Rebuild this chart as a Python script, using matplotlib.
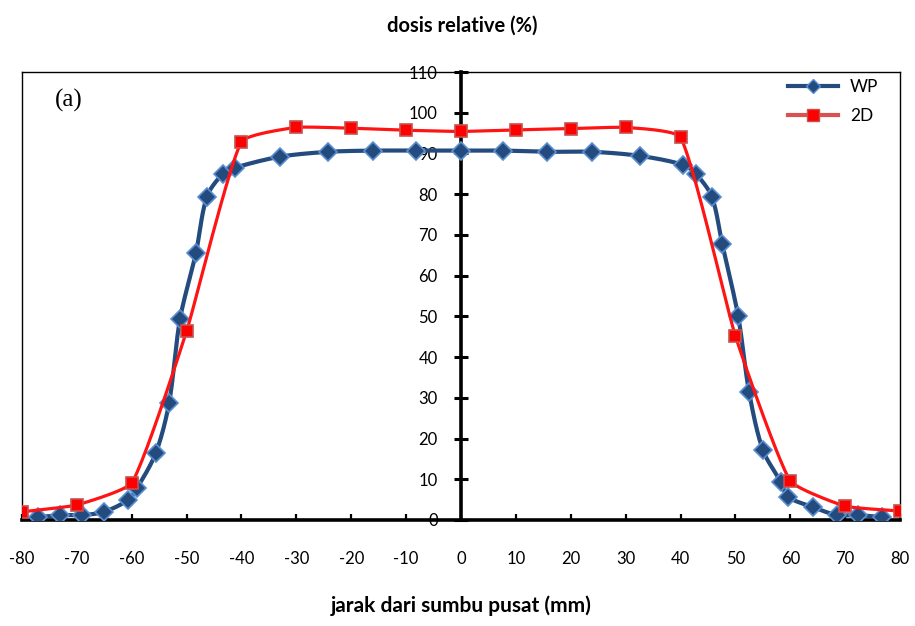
import numpy as np
import matplotlib
matplotlib.use("Agg")
import matplotlib.pyplot as plt
from matplotlib.lines import Line2D

# ---------------- data ----------------
wp_x = [-77.1, -73.1, -69.1, -65.1, -60.7, -59.0, -55.6, -53.2, -51.2, -48.3,
        -46.3, -43.4, -41.2, -33.0, -24.2, -16.0, -8.2, 0.0, 7.7, 15.7,
        23.9, 32.6, 40.5, 42.8, 45.7, 47.6, 50.5, 52.5, 55.0, 58.3,
        59.6, 64.1, 68.5, 72.3, 76.7]
wp_y = [0.7, 1.2, 1.2, 2.0, 4.9, 7.9, 16.5, 28.7, 49.4, 65.6,
        79.4, 85.0, 86.5, 89.2, 90.4, 90.7, 90.7, 90.7, 90.7, 90.4,
        90.4, 89.4, 87.2, 85.0, 79.4, 67.8, 50.1, 31.4, 17.2, 9.3,
        5.7, 3.2, 1.2, 1.2, 0.7]

d2_x = [-80, -70, -60, -50, -40, -30, -20, -10, 0, 10, 20, 30, 40, 50, 60, 70, 80]
d2_y = [2.0, 3.7, 9.1, 46.4, 92.9, 96.4, 96.2, 95.7, 95.4, 95.8, 96.1, 96.4,
        94.0, 45.2, 9.6, 3.4, 2.2]

x_ticks = list(range(-80, 90, 10))
y_ticks = list(range(0, 120, 10))
series_labels = ["WP", "2D"]

title = "dosis relative (%)"
xlabel = "jarak dari sumbu pusat (mm)"
panel = "(a)"


def smooth(x, y, k=0.3, n=24):
    """Smoothed line through the points (Bezier with length-scaled tangents)."""
    sx, sy = 5.49, 4.07  # approximate pixel scale so the smoothing is isotropic
    P = np.column_stack([np.asarray(x, float) * sx, np.asarray(y, float) * sy])
    P = np.vstack([P[0], P, P[-1]])
    t = np.linspace(0, 1, n, endpoint=False)[:, None]
    segs = []
    for i in range(1, len(P) - 2):
        p0, p1, p2, p3 = P[i - 1], P[i], P[i + 1], P[i + 2]
        L = np.linalg.norm(p2 - p1)
        d1 = p2 - p0
        d1 = d1 / (np.linalg.norm(d1) or 1.0)
        d2 = p3 - p1
        d2 = d2 / (np.linalg.norm(d2) or 1.0)
        c1 = p1 + d1 * L * k
        c2 = p2 - d2 * L * k
        seg = ((1 - t) ** 3) * p1 + 3 * ((1 - t) ** 2) * t * c1 \
            + 3 * (1 - t) * t ** 2 * c2 + t ** 3 * p2
        segs.append(seg)
    segs.append(P[-2][None, :])
    out = np.vstack(segs)
    return out[:, 0] / sx, out[:, 1] / sy


plt.rcParams["font.family"] = ["Lato", "DejaVu Sans"]

fig = plt.figure(figsize=(9.15, 6.26), dpi=100)
ax = fig.add_axes([22 / 915, 1 - 520 / 626, 878 / 915, 448 / 626])
ax.set_xlim(-80, 80)
ax.set_ylim(0, 110)

blue = "#234B7E"
blue_edge = "#5A8ED0"
red = "#FF1414"
red_edge = "#C8504D"

# WP series
sx_, sy_ = smooth(wp_x, wp_y, k=0.3)
ax.plot(sx_, sy_, color=blue, lw=3.0, zorder=3, solid_capstyle="round")
ax.plot(wp_x, wp_y, ls="none", marker="D", ms=9.5, mfc=blue, mec=blue_edge,
        mew=1.2, zorder=4)

# 2D series
sx2, sy2 = smooth(d2_x, d2_y, k=0.14)
ax.plot(sx2, sy2, color=red, lw=2.3, zorder=5, solid_capstyle="round")
ax.plot(d2_x, d2_y, ls="none", marker="s", ms=9, mfc="#FF0000", mec=red_edge,
        mew=1.2, zorder=6)

# axes styling
ax.spines["left"].set_position(("data", 0))
ax.spines["left"].set_linewidth(2.6)
ax.spines["bottom"].set_linewidth(2.6)
ax.spines["top"].set_linewidth(1.0)
ax.spines["right"].set_linewidth(1.0)
ax.plot([0, 0], [0, 1], transform=ax.transAxes, color="black", lw=1.0,
        clip_on=False, zorder=1)

ax.set_xticks(x_ticks)
ax.set_yticks(y_ticks)
ax.set_xticklabels([str(v) for v in x_ticks])
ax.set_yticklabels([str(v) for v in y_ticks])
ax.tick_params(axis="y", direction="inout", length=9.5, width=2.2, pad=12,
               labelsize=12)
ax.tick_params(axis="x", direction="in", length=4, width=1.6, pad=22,
               labelsize=12)

# legend
handles = [
    Line2D([], [], color=blue, lw=3.0, marker="D", ms=7, mfc=blue,
           mec=blue_edge, mew=1.0),
    Line2D([], [], color="#D9524F", lw=3.0, marker="s", ms=8, mfc="#FF0000",
           mec=red_edge, mew=1.0),
]
leg = ax.legend(handles, series_labels, loc="upper left",
                bbox_to_anchor=(0.872, 0.985), frameon=False, fontsize=12.5,
                handlelength=2.9, handletextpad=0.7, labelspacing=0.75,
                borderpad=0, borderaxespad=0)

# texts
fig.text(462 / 915, 1 - 26 / 626, title, ha="center", va="center",
         fontsize=14.5, fontweight="bold")
fig.text(461 / 915, 1 - 606 / 626, xlabel, ha="center", va="center",
         fontsize=15, fontweight="bold")
fig.text(55 / 915, 1 - 100 / 626, panel, ha="left", va="center",
         fontsize=18, family=["Liberation Serif", "DejaVu Serif"])

fig.savefig("out.png", dpi=100)
